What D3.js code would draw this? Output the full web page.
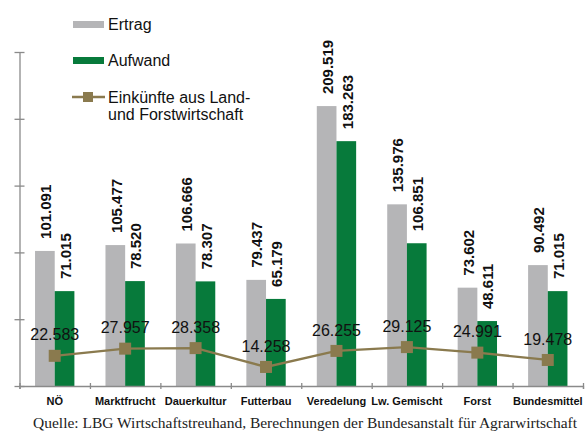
<!DOCTYPE html>
<html>
<head>
<meta charset="utf-8">
<script src="https://cdn.jsdelivr.net/npm/d3@7"></script>
<style>
  body { margin: 0; background: #fff; }
  svg { display: block; font-family: "Liberation Sans", Arial, sans-serif; }
</style>
</head>
<body>
<div id="chart"></div>
<script>
// data
const categories = ["NÖ", "Marktfrucht", "Dauerkultur", "Futterbau", "Veredelung", "Lw. Gemischt", "Forst", "Bundesmittel"];
const ertrag = [101.091, 105.477, 106.666, 79.437, 209.519, 135.976, 73.602, 90.492];
const aufwand = [71.015, 78.520, 78.307, 65.179, 183.263, 106.851, 48.611, 71.015];
const einkuenfte = [22.583, 27.957, 28.358, 14.258, 26.255, 29.125, 24.991, 19.478];
const yTicks = [0, 50, 100, 150, 200, 250];
const seriesNames = ["Ertrag", "Aufwand"];

const colors = {Ertrag: "#b5b5b7", Aufwand: "#077a3b", line: "#8a7a4e", axis: "#8a8a8a"};
const width = 586, height = 432;
const fmt = v => v.toFixed(3);

const svg = d3.select("#chart").append("svg")
    .attr("width", width)
    .attr("height", height);

const x = d3.scaleBand()
    .domain(categories)
    .range([19.5, 583]);

const xSub = d3.scaleBand()
    .domain(seriesNames)
    .range([0, x.bandwidth()])
    .paddingOuter(0.79);

const y = d3.scaleLinear()
    .domain([0, 250])
    .range([386, 52]);

// y axis
const yAxis = svg.append("g")
    .attr("transform", "translate(19.5,0)")
    .call(d3.axisLeft(y).tickValues(yTicks).tickFormat("").tickSizeOuter(0));
yAxis.selectAll(".tick line").attr("x1", 5).attr("x2", -5);
yAxis.selectAll("path, line").attr("stroke", colors.axis).attr("stroke-width", 1.3);

// bars
const rows = categories.map((c, i) => ({cat: c, Ertrag: ertrag[i], Aufwand: aufwand[i], income: einkuenfte[i]}));

const groups = svg.append("g").selectAll("g")
    .data(rows)
    .join("g")
    .attr("transform", d => "translate(" + x(d.cat) + ",0)");

groups.selectAll("rect")
    .data(d => seriesNames.map(k => ({key: k, value: d[k]})))
    .join("rect")
    .attr("x", d => xSub(d.key))
    .attr("width", xSub.bandwidth())
    .attr("y", d => y(d.value))
    .attr("height", d => y(0) - y(d.value))
    .attr("fill", d => colors[d.key]);

groups.selectAll("text.val")
    .data(d => seriesNames.map(k => ({key: k, value: d[k]})))
    .join("text")
    .attr("class", "val")
    .attr("transform", d => "translate(" + (xSub(d.key) + xSub.bandwidth() / 2 + 1) + "," + (y(d.value) - 12) + ") rotate(-90)")
    .attr("dy", "0.35em")
    .attr("font-size", 15)
    .attr("font-weight", "bold")
    .attr("fill", "#111")
    .text(d => fmt(d.value));

// x axis
const xEdge = d3.scaleLinear().domain([0, categories.length]).range([19.5, 583]);
const xAxis = svg.append("g")
    .attr("transform", "translate(0,386)")
    .call(d3.axisBottom(xEdge).tickValues(d3.range(categories.length + 1)).tickFormat("").tickSizeOuter(0).tickSize(3));
xAxis.selectAll(".tick line").attr("y1", -3);
xAxis.selectAll("path, line").attr("stroke", colors.axis).attr("stroke-width", 1.3);

svg.append("g").selectAll("text")
    .data(categories)
    .join("text")
    .attr("x", d => x(d) + x.bandwidth() / 2)
    .attr("y", 405)
    .attr("text-anchor", "middle")
    .attr("font-size", 11)
    .attr("font-weight", "bold")
    .attr("fill", "#111")
    .text(d => d);

// income line
const cx = d => x(d.cat) + x.bandwidth() / 2;
svg.append("path")
    .datum(rows)
    .attr("fill", "none")
    .attr("stroke", colors.line)
    .attr("stroke-width", 2.3)
    .attr("d", d3.line().x(cx).y(d => y(d.income)));

svg.append("g").selectAll("rect")
    .data(rows)
    .join("rect")
    .attr("x", d => cx(d) - 6)
    .attr("y", d => y(d.income) - 6)
    .attr("width", 12)
    .attr("height", 12)
    .attr("fill", colors.line);

svg.append("g").selectAll("text")
    .data(rows)
    .join("text")
    .attr("x", cx)
    .attr("y", d => y(d.income) - 21)
    .attr("dy", "0.35em")
    .attr("text-anchor", "middle")
    .attr("font-size", 16)
    .attr("fill", "#111")
    .text(d => fmt(d.income));

// legend
const legend = svg.append("g").attr("font-size", 16).attr("fill", "#111");
legend.append("rect").attr("x", 73).attr("y", 21).attr("width", 31).attr("height", 7).attr("fill", colors.Ertrag);
legend.append("text").attr("x", 108).attr("y", 24).attr("dy", "0.35em").text("Ertrag");
legend.append("rect").attr("x", 73).attr("y", 57).attr("width", 31).attr("height", 7).attr("fill", colors.Aufwand);
legend.append("text").attr("x", 108).attr("y", 60).attr("dy", "0.35em").text("Aufwand");
legend.append("line").attr("x1", 72).attr("x2", 105).attr("y1", 97).attr("y2", 97)
    .attr("stroke", colors.line).attr("stroke-width", 2.5);
legend.append("rect").attr("x", 83).attr("y", 92).attr("width", 10).attr("height", 10).attr("fill", colors.line);
legend.append("text").attr("x", 108).attr("y", 97).attr("dy", "0.35em").text("Einkünfte aus Land-");
legend.append("text").attr("x", 108).attr("y", 114).attr("dy", "0.35em").text("und Forstwirtschaft");

// source
svg.append("text")
    .attr("x", 33)
    .attr("y", 428)
    .attr("font-family", "'Liberation Serif', 'Times New Roman', serif")
    .attr("font-size", 15.5)
    .attr("fill", "#222")
    .text("Quelle: LBG Wirtschaftstreuhand, Berechnungen der Bundesanstalt für Agrarwirtschaft");
</script>
</body>
</html>
